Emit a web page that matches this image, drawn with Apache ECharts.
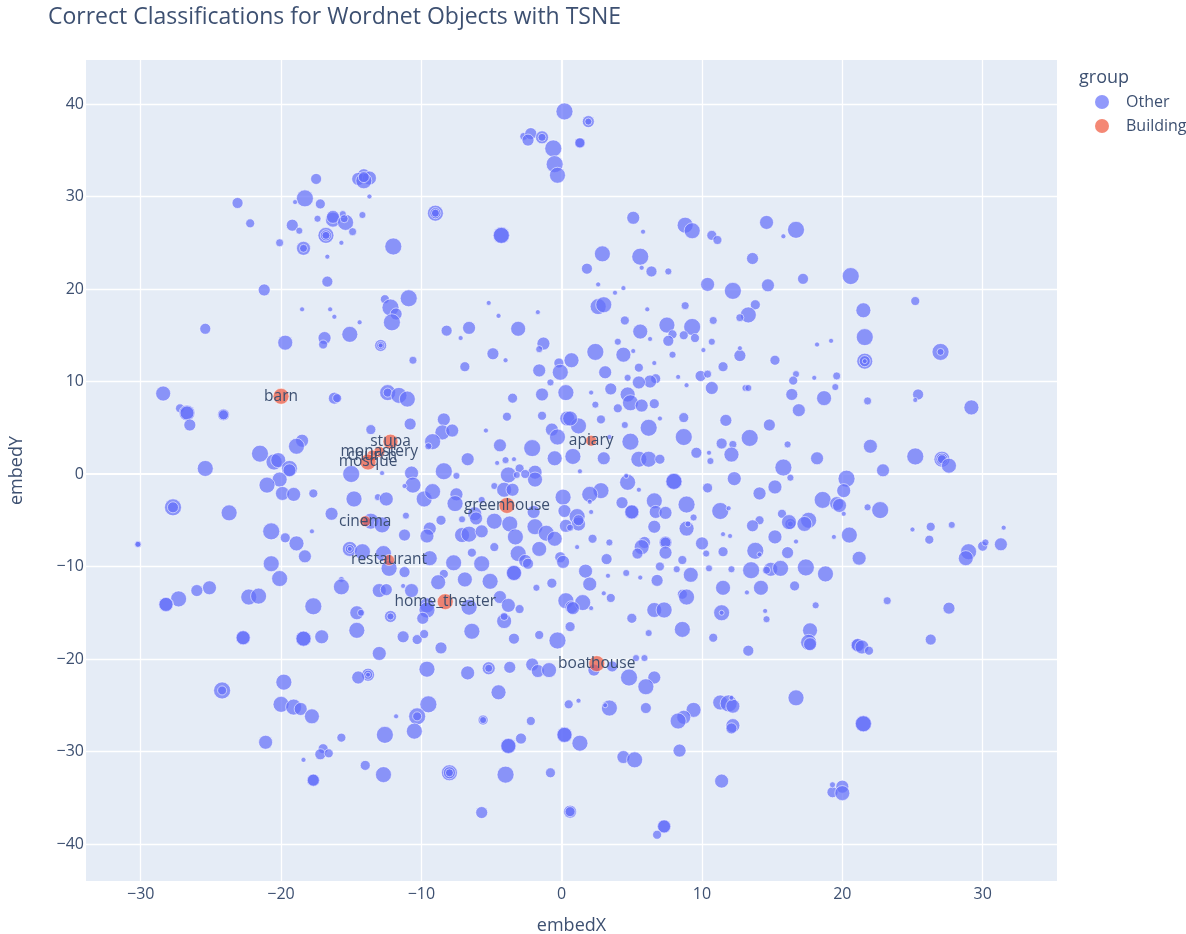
<!DOCTYPE html>
<html><head><meta charset="utf-8">
<style>html,body{margin:0;padding:0;background:#fff}#c{width:1186px;height:934px}</style>
<script src="https://cdn.jsdelivr.net/npm/echarts@6/dist/echarts.min.js"></script></head>
<body><div id="c"></div>
<script>
const titleText = 'Correct Classifications for Wordnet Objects with TSNE';
const xTicks = [-30,-20,-10,0,10,20,30];
const yTicks = [-40,-30,-20,-10,0,10,20,30,40];
const buildingNames = ['barn','stupa','monastery','church','mosque','apiary','greenhouse','cinema','restaurant','home_theater','boathouse'];
const buildingX = [-20,-12.2,-13,-13.5,-13.8,2.1,-3.9,-14,-12.3,-8.3,2.5];
const buildingY = [8.4,3.5,2.4,2,1.3,3.6,-3.4,-5.1,-9.3,-13.8,-20.5];
const buildingSize = [15,14,10,10,15,10,15,10,10,15,15];
// [embedX, embedY, markerSize]
const otherTop = [
[0.2,39.2,16],[-2.7,36.5,7],[-2.2,36.8,11],[-2.4,36.1,11],[-1.4,36.4,12],[-1.4,36.4,7],[-0.6,35.2,16],[-0.5,33.5,16],[-0.3,32.3,15],[-17.5,31.9,10],
[-14.1,32.3,12],[-14.5,31.9,12],[-13.7,32,13],[-14.1,31.7,15],[-14.1,32.1,10],[-18.3,29.8,16],[-13.7,30,4],[-19,29.4,4],[-17.2,29.2,9],[-23.1,29.3,10],
[-9,28.2,15],[-9,28.2,10],[-9,28.2,7],[-22.2,27.1,8],[-19.2,26.9,11],[-17.4,27.6,6],[-16.3,27.5,14],[-16.3,27.8,12],[-15.4,27.2,15],[-15.6,28.1,6],[-15.5,27.6,7],
[-14.2,28,6],[-18.7,26.3,6],[-14.9,26.2,7],[-16.8,25.8,15],[-16.8,25.8,10],[-16.8,25.8,7],[-4.3,25.8,16],[-4.3,25.8,15],[-15.7,25,4],[-20.1,25,7],[-18.4,24.4,13],[-18.4,24.4,7],
[-12,24.6,16],[-16.7,23.5,4],[-16.7,20.8,10],[-21.2,19.9,11],[-10.9,19,16],[-12.6,18.9,8],[-12.2,18,16],[-11.8,17.3,11],[-12.1,16.4,16],[-18.5,17.8,4],[-16.5,17.8,4],[-16.2,17,4],
[-5.2,18.5,4],[-4.5,17.1,4],[-1.7,17.5,4],[-14.4,16.4,4],[-8.2,15.5,10],[-6.6,15.8,12],[-3.1,15.7,14],[-25.4,15.7,10],[-19.7,14.2,14],[-16.9,14.7,12],[-17,14,8],[-15.1,15.1,15],
[-12.9,13.9,11],[-12.9,13.9,7],[-12.9,13.9,4],[-7.2,14.7,4],[-1.3,14.1,12],
[1.9,38.1,11],[1.9,38.1,6],[1.3,35.8,10],[1.3,35.8,9],[5.1,27.7,12],[5.8,26.2,4],[8.8,26.9,15],[9.3,26.3,15],[10.7,25.8,9],[11.1,25.3,8],[14.6,27.2,13],[16.7,26.4,16],[15.8,25.7,4],
[2.9,23.8,15],[5.6,23.5,16],[1.8,22.2,10],[5.7,22.3,4],[6.4,21.9,10],[7.6,21.9,6],[13.6,23.3,11],[17.2,21.1,10],[20.6,21.4,16],[10.4,20.5,13],[12.2,19.8,16],[14.7,20.4,12],
[2.6,20.5,4],[4.4,20.1,4],[3.8,19.6,4],[6.1,17.8,4],[8.8,18.2,7],[2.6,18.1,15],[3,18.3,15],[25.2,18.7,8],[21.5,17.7,14],[13.8,18.3,9],[13.3,17.2,15],[12.7,16.9,7],[4.5,16.6,8],
[10.8,16.6,7],[7.5,16.1,15],[9.3,15.9,16],[5.6,15.4,14],[7.9,15.1,8],[8.7,15,8],[9.5,14.7,8],[21.6,14.8,16],[6.3,14.6,4],[7.6,14.4,10],[4,14.3,6],[10.7,14.3,6],[19.2,14.4,4]
];
const otherMiddleLeft = [
[-10.6,12.3,7],[-4.9,13,11],[-4,12.3,4],[-6.9,11.6,9],[-1.6,13.5,6],[-1.6,11.2,12],[-0.2,12,9],[-0.1,11,15],[0.7,12.3,14],[-0.8,9.9,6],[-1.4,8.6,12],[0.3,8.8,15],[-3.5,8.2,9],
[-28.4,8.7,14],[-16.2,8.2,11],[-16,8.2,8],[-12.4,8.8,15],[-12.4,8.8,8],[-11.6,8.5,15],[-11,8.1,15],[-27.2,7.1,8],[-26.7,6.6,15],[-26.7,6.6,13],[-26.5,5.3,11],[-24.1,6.4,11],[-24.1,6.4,9],
[-10.8,5.4,11],[-13.6,4.8,9],[-8.4,5.9,12],[-8.5,4.5,14],[-7.8,4.7,12],[-9.2,3.5,15],[-9.5,3,6],[-5.4,4.7,4],[-3.9,6.2,8],[-1.4,6.3,8],[0.4,6,14],[-0.7,4.8,12],[-0.3,4,15],
[-4.4,3.1,12],[-2.1,2.8,16],[0.8,1.9,15],[-0.5,1.7,14],[-6.7,1.6,12],[-4,1.5,6],[-3.4,1.6,4],[-4.6,1.2,4],[-8.4,0.3,16],[-3,0.6,8],[-3.8,-0.1,15],[-1.9,0.2,13],[-1.9,-0.6,14],
[-2.6,0,8],[-3.2,-0.1,6],[-7.5,-0.2,6],[-10.7,0.1,13],[-10.6,-1.2,15],[-11.2,-1.3,4],[-12.8,0.1,4],[-15,0,16],[-18.5,3.6,12],[-18.9,3,15],[-21.5,2.2,16],[-20.5,1.3,15],[-20.2,1.5,14],
[-19.4,0.6,15],[-19.4,0.4,12],[-25.4,0.6,15],[-20.1,-0.6,14],[-21,-1.2,15],[-19.9,-2.1,13],[-19.1,-2.2,13],[-17.7,-2.1,8],[-14.8,-2.7,15],[-13.1,-2.5,6],[-12.5,-2.7,13],
[-9.8,-2.7,15],[-9.2,-1.9,15],[-7.5,-2.2,12],[-7.6,-3.2,15],[-4.8,-1.3,6],[-4.1,-1.7,14],[-3.5,-1.7,12],[0.1,-2.5,15],[-5.7,-2.8,6],[-6.2,-4.3,13],[-6.1,-4.8,12],[-2,-4.1,12],[0.2,-4,12],
[-23.7,-4.2,15],[-27.7,-3.6,16],[-27.7,-3.6,10],[-16.4,-4.3,12],[-13.6,-5.1,15],[-12.8,-5.5,15],[-11.1,-4.5,6],[-8.6,-5,9],[-7.1,-4.9,6],[-4.8,-5.1,15],[-3.7,-5.4,15],[-1.9,-5.7,15],[0.3,-5.6,12],
[-9.4,-5.9,12],[-9.6,-6.7,13],[-11.2,-6.6,11],[-7.1,-6.6,14],[-6.6,-6.5,15],[-5.7,-6.2,12],[-3.3,-6.8,15],[-1.1,-6.4,15],[-0.5,-7,14],[-20.7,-6.2,16],[-19.7,-6.9,9],[-18.9,-7.5,14],[-17.8,-6.2,4],
[-30.2,-7.6,6],[-30.2,-7.6,5],[-18.3,-8.9,12],[-15.1,-8.1,14],[-15.1,-8.1,8],[-15.1,-8.1,4],[-14.2,-8.4,15],[-12.7,-8.6,15],[-12.3,-10.2,15],[-11.2,-10.6,10],[-9.4,-9.1,14],[-7.7,-9.6,15],
[-6.4,-8.5,8],[-4.8,-7.9,8],[-5.7,-9.7,15],[-3.1,-8.6,15],[-2.6,-9.4,12],[-2.4,-9.7,10],[-1.6,-8.1,14],[-0.1,-9,10],[0.1,-9.5,12],[-3.4,-10.7,15],[-3.4,-10.7,14],[-6.9,-11.4,14],[-5.1,-11.6,15],
[-8.4,-10.8,8],[-8.8,-11.7,14],[-20.7,-9.7,15],[-20.1,-11.3,15],[-15.7,-11.4,5],[-15.7,-12.2,15],[-13,-12.6,13],[-12.5,-12.5,11],[-11.3,-12.1,4],[-10.7,-12.6,13],[-1.8,-12.3,6],[-0.7,-11.8,9],
[0.3,-13.7,15],[-4.4,-13.3,12],[-3.8,-14.2,13],[-3,-14.6,8],[-6.6,-14.4,15],[-9.6,-14.2,14],[-9.6,-14.7,15],[0.7,-14.4,12],[-25.1,-12.3,13],[-26,-12.6,11],[-27.3,-13.5,15],[-28.2,-14.1,14],[-28.2,-14.1,13],
[-22.3,-13.3,15],[-21.6,-13.2,15],[-17.7,-14.3,16],[-14.6,-15,13],[-14.3,-15,6],[-12.2,-15.4,11],[-12.2,-15.4,6]
];
const otherMiddleRight = [
[2.4,13.2,16],[4.4,12.9,14],[5.1,13.3,4],[7.9,12.9,6],[10.1,13.4,4],[12.7,12.8,11],[12.7,13.6,4],[15.2,12.3,9],[18.2,14,4],[27,13.2,16],[27,13.2,6],[21.6,12.2,15],[21.6,12.2,10],[21.6,12.2,4],
[5.5,11.5,8],[6.6,12,4],[3.1,11,12],[4.7,10.4,6],[6.7,10.3,9],[6.3,10,12],[5.5,9.9,12],[8.3,10.5,4],[8.9,9.6,4],[9.9,10.6,10],[10.4,10.8,7],[11.5,11.6,9],[3.5,9.2,11],[2.1,8.8,4],[4.7,8.6,14],
[10.7,9.3,12],[13.1,9.3,6],[13.3,9.3,6],[16.7,10.8,6],[16.5,10.1,8],[18,10.4,4],[19.6,10.6,7],[19.5,9.4,6],[16.4,8.6,11],[18.7,8.2,14],[16.9,6.9,12],[21.8,7.9,7],[25.4,8.6,10],[25.2,8,4],[29.2,7.2,14],
[2.4,7.5,6],[4.9,7.7,15],[5.7,7.4,12],[6.6,7.6,9],[4,7.1,8],[2.8,5.9,8],[1.2,5.2,15],[0.6,6,14],[4.5,5.3,6],[6.2,5,16],[7,6,4],[8.7,6.1,9],[11.7,5.8,11],[14.8,5.3,11],[8.7,4,16],[4.9,3.5,16],[3.4,4,4],
[11.4,3.3,10],[12.2,3.2,7],[13.4,3.9,16],[16.1,3.2,6],[22,3,13],[9.6,2.3,10],[10.5,2.3,4],[12.1,2.1,14],[10.6,1.4,6],[18.2,1.7,12],[25.2,1.9,16],[27.1,1.6,15],[27.1,1.6,11],[27.1,1.6,8],[27.6,0.9,14],
[22.9,0.4,12],[15.8,0.7,16],[16.3,-0.4,6],[20.3,-0.5,16],[20.1,-1.8,13],[3,1.7,12],[5.5,1.6,15],[6.2,1.6,15],[7,1.6,9],[1.3,0.3,4],[4.7,-0.9,15],[4.6,-0.2,4],[8,-0.8,16],[8,-0.8,15],[5.5,-1.7,4],[10.4,-1.5,9],
[12.3,-0.5,13],[15.2,-1.4,13],[14.1,-2.1,12],[2.8,-1.8,15],[2,-2.2,15],[2,-3,4],[4.3,-3.1,11],[6.6,-2.9,15],[8.9,-3.3,16],[5,-4.1,14],[5,-4.1,13],[6.7,-4.1,12],[7.4,-4.2,12],[11.3,-4,16],[11.9,-3.7,4],[2.1,-4.1,4],
[18.6,-2.8,16],[19.6,-3.2,13],[19.8,-3.4,13],[21.8,-3.6,6],[22.7,-3.9,16],[20.1,-4.3,4],[15.7,-4.3,8],[16.3,-5.4,10],[16.3,-5.4,5],[16.2,-5.2,14],[17.6,-5,15],[17.3,-5.4,14],[14.1,-5,8],[13.6,-5.6,11],
[9.4,-4.7,6],[8.9,-5.9,14],[9,-5.4,5],[6.6,-5.7,12],[1.1,-4.6,15],[1.2,-5.4,13],[1.2,-5,10],[0.6,-5.8,6],[20.5,-6.6,15],[19.4,-6.8,4],[15.2,-6.8,13],[16.7,-7.3,4],[11.5,-6.5,4],[12,-6.7,4],[10,-7.5,12],
[2.2,-7,8],[3.4,-7.4,6],[1.1,-7.9,4],[5.9,-7.4,11],[5.7,-7.9,14],[7.4,-7.4,12],[7.4,-7.4,10],[7.4,-8.5,12],[5.4,-8.6,10],[10.3,-8.6,6],[11.5,-8.4,9],[13.8,-8.3,16],[14.1,-8.7,4],[16.1,-8.5,11],[3.2,-9.2,10],[8.6,-9.3,8],
[25,-6,4],[26.3,-5.7,8],[27.8,-5.5,6],[31.5,-5.8,4],[26.2,-7.1,8],[30,-7.8,9],[30.2,-7.4,6],[31.3,-7.6,12],[29,-8.4,15],[28.8,-9.1,14],[21.2,-9.1,13],[7,-10,8],[8.2,-10.3,6],[1.7,-10.5,13],[4.6,-10.7,6],[3.3,-11,4],
[5.6,-11.2,4],[6.8,-11.5,11],[9.2,-10.9,14],[10.5,-10.2,6],[12.1,-10.3,6],[13.5,-10.4,16],[14.9,-10.3,13],[14.6,-10.4,7],[15.6,-10.2,15],[17.4,-10.1,16],[18.8,-10.8,15],[2,-11.9,13],[3,-12.9,4],[3.5,-13.4,8],
[8.6,-13,9],[8.9,-13.3,15],[11.5,-12.3,14],[13.2,-12.8,4],[14.2,-12.3,14],[16.6,-12.1,9],[23.2,-13.7,7],[18.1,-14.2,6],[27.6,-14.5,11],[1.5,-13.9,15],[0.8,-14.5,12],[2.1,-14.5,4],[6.6,-14.7,14],[7.3,-14.7,15],
[11.4,-15,15],[11.4,-15,4],[14.5,-14.8,4],[14.6,-15.7,6],[5,-15.6,9]
];
const otherBottom = [
[-14.6,-16.9,15],[-22.7,-17.7,14],[-22.7,-17.7,13],[-18.4,-17.8,15],[-18.4,-17.8,14],[-17.1,-17.6,13],[-11.3,-17.6,11],[-10.3,-17.9,9],[-9.8,-17.3,8],[-9.9,-15.6,11],[-6.4,-17,15],[-4.1,-15.9,14],[-4.1,-15.4,7],
[-3.4,-17.8,10],[-1.6,-17.4,8],[-0.3,-18,16],[0.6,-16.5,9],[-13,-19.4,13],[-8.6,-18.8,11],[-9.6,-21.1,15],[-13.8,-21.7,12],[-13.8,-21.7,8],[-13.8,-21.7,4],[-14.5,-22,12],[-6.7,-21.5,13],[-5.2,-21,12],[-5.2,-21,7],
[-3.7,-20.9,11],[-2.1,-20.6,12],[-1.7,-21.3,12],[-0.9,-21.2,14],[-4.5,-23.6,14],[-19.8,-22.5,15],[-24.2,-23.4,16],[-24.2,-23.4,8],[-20,-24.9,15],[-19.1,-25.2,15],[-18.6,-25.4,12],[-17.8,-26.2,14],[-9.5,-24.9,16],
[-10.3,-26.2,16],[-10.3,-26.2,8],[-11.8,-26.2,4],[-10.5,-27.8,15],[-12.6,-28.2,16],[-15.7,-28.5,8],[-21.1,-29,13],[-17,-29.7,9],[-17.2,-30.3,10],[-16.6,-30.2,8],[-18.4,-30.9,4],[-14,-31.5,9],[-12.7,-32.5,15],
[-8,-32.3,15],[-8,-32.3,11],[-8,-32.3,7],[-17.7,-33.1,12],[-17.7,-33.1,11],[-4,-32.5,16],[-0.8,-32.3,9],[-5.7,-36.6,11],[0.6,-36.5,12],[0.6,-36.5,9],[0.5,-24.9,8],[-5.6,-26.6,9],[-5.6,-26.6,6],[-2.2,-26.7,8],[-2.9,-28.6,10],
[-3.8,-29.4,15],[-3.8,-29.4,14],[0.2,-28.2,15],[0.2,-28.2,14],[1.3,-29.1,15],
[8.6,-16.8,15],[6.2,-17.2,6],[10.8,-17.7,8],[13.3,-19.1,10],[17.7,-16.9,14],[17.6,-18.2,15],[17.7,-18.4,12],[21.1,-18.5,13],[21.1,-18.5,12],[21.4,-18.7,13],[21.9,-19.1,8],[26.3,-17.9,10],[2.3,-21.2,11],[3.6,-20.8,10],
[5.3,-19.9,6],[5.9,-19.9,6],[4.8,-22,16],[6.6,-22,12],[6,-23,15],[3.4,-25.3,15],[3.1,-25,4],[1.2,-24.5,4],[6,-25.3,10],[9.4,-25.5,14],[8.7,-26.3,13],[8.3,-26.7,15],[11.3,-24.7,14],[11.9,-24.8,16],[12.2,-25.1,13],[12.1,-24.2,4],
[16.7,-24.2,15],[12.2,-27.2,13],[12.1,-27.5,10],[21.5,-27,16],[21.5,-27,15],[4.4,-30.6,12],[5.2,-30.9,15],[8.4,-29.9,12],[11.4,-33.2,13],[20,-33.8,12],[19.3,-34.4,10],[20,-34.5,14],[19.3,-33.6,5],[7.3,-38.1,13],[7.3,-38.1,12],[6.8,-39,8]
];
const otherPoints = otherTop.concat(otherMiddleLeft, otherMiddleRight, otherBottom);

const font = '"Open Sans", sans-serif', ink = '#3d5071';
const minusFmt = v => String(v).replace('-', '\u2212');
const gridLine = v => ({lineStyle:{color:'#ffffff',type:'solid',width:v===0?2.2:1.3}});
const axisBase = {
  type:'value', nameLocation:'middle',
  nameTextStyle:{color:ink,fontFamily:font,fontSize:18},
  axisLine:{show:false}, axisTick:{show:false}, splitLine:{show:false}
};
const labelBase = {color:ink,fontFamily:font,fontSize:16,formatter:minusFmt};
const chart = echarts.init(document.getElementById('c'),null,{renderer:'canvas'});
chart.setOption({
  animation:false, backgroundColor:'#ffffff',
  title:[
    {text:titleText,left:43,top:1,textStyle:{color:ink,fontFamily:font,fontSize:23,fontWeight:'normal'}},
    {text:'group',left:1074,top:64,textStyle:{color:ink,fontFamily:font,fontSize:18,fontWeight:'normal'}}
  ],
  legend:{
    data:[{name:'Other',itemStyle:{color:'#636efa',opacity:0.7,borderWidth:0}},{name:'Building',itemStyle:{color:'#EF553B',opacity:0.7,borderWidth:0}}],
    orient:'vertical',left:1090,top:89,itemWidth:14,itemHeight:14,itemGap:8,icon:'circle',
    textStyle:{color:ink,fontFamily:font,fontSize:16,padding:[0,0,0,12]}
  },
  grid:{left:86,top:60,right:129,bottom:53,backgroundColor:'#e5ecf6',show:true,borderWidth:0,outerBoundsMode:'none'},
  xAxis:Object.assign({},axisBase,{name:'embedX',nameGap:36,min:-33.9,max:35.3,
    axisLabel:Object.assign({},labelBase,{margin:5,customValues:xTicks})}),
  yAxis:Object.assign({},axisBase,{name:'embedY',nameGap:60,min:-44,max:44.76,
    axisLabel:Object.assign({},labelBase,{margin:2,customValues:yTicks})}),
  series:[
    {type:'scatter',name:'grid',data:[],z:1,silent:true,
     markLine:{z:1,silent:true,symbol:'none',label:{show:false},animation:false,precision:4,
       data:xTicks.map(v=>Object.assign({xAxis:v},gridLine(v))).concat(yTicks.map(v=>Object.assign({yAxis:v},gridLine(v))))}},
    {type:'scatter',name:'Other',z:3,data:otherPoints,
     symbolSize:p=>p[2]+1,
     itemStyle:{color:'#636efa',opacity:0.7,borderColor:'#ffffff',borderWidth:0.8}},
    {type:'scatter',name:'Building',z:4,
     data:buildingNames.map((n,i)=>({name:n,value:[buildingX[i],buildingY[i],buildingSize[i]]})),
     symbolSize:p=>p[2]+1,
     itemStyle:{color:'#EF553B',opacity:0.7,borderColor:'#ffffff',borderWidth:0.8},
     label:{show:true,position:'inside',formatter:'{b}',color:ink,fontFamily:font,fontSize:15.5,opacity:1},
     labelLayout:{hideOverlap:false}}
  ]
});
</script></body></html>
